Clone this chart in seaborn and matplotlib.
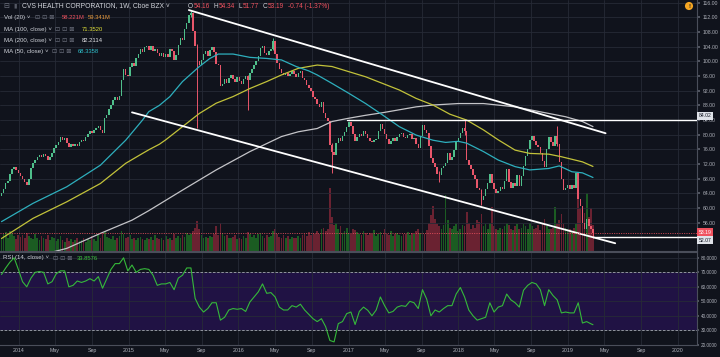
import matplotlib
matplotlib.use("Agg")
import numpy as np
import pandas as pd
import matplotlib.pyplot as plt
import matplotlib.dates as mdates
from matplotlib.ticker import FixedLocator, FuncFormatter, FormatStrFormatter
import seaborn as sns

# ---------------- data (weekly, CVS Health) ----------------
last_week = "2019-03-25"
first_open = 63.4
closes = [
    64.0, 65.2, 66.8, 67.5, 69.3, 70.6, 71.2, 70.3, 69.6, 68.8,
    68.0, 67.2, 66.4, 67.8, 70.9, 72.3, 73.2, 73.8, 74.6, 73.9,
    74.8, 74.2, 73.2, 73.8, 74.9, 76.4, 77.2, 78.1, 79.3, 78.6,
    79.2, 77.8, 76.6, 77.4, 76.8, 77.5, 76.9, 78.0, 78.6, 78.2,
    79.4, 80.3, 81.0, 80.6, 81.4, 81.9, 82.3, 81.2, 80.6, 84.5,
    85.3, 86.9, 88.2, 89.6, 90.3, 89.4, 90.6, 94.8, 97.9, 96.4,
    96.0, 98.4, 99.6, 98.8, 100.9, 102.1, 103.3, 102.6, 103.8, 104.3,
    103.2, 104.1, 102.8, 103.5, 102.2, 101.6, 102.4, 101.3, 102.0, 101.1,
    103.4, 102.9, 100.4, 101.8, 104.6, 106.3, 105.8, 108.9, 110.6, 112.7,
    113.2, 108.4, 104.3, 100.2, 99.1, 100.4, 101.9, 102.8, 101.6, 103.1,
    103.9, 102.5, 99.4, 98.9, 93.2, 93.8, 95.2, 94.1, 95.6, 96.4,
    95.3, 94.4, 95.8, 94.6, 93.7, 95.1, 95.9, 94.8, 96.7, 98.0,
    98.9, 100.2, 101.4, 103.6, 104.1, 102.3, 101.8, 102.9, 103.4, 105.6,
    102.0, 99.6, 97.8, 96.9, 96.2, 96.8, 95.9, 96.5, 97.3, 96.6,
    95.8, 96.9, 97.4, 95.6, 94.8, 93.6, 92.8, 91.9, 90.4, 89.8,
    88.3, 87.6, 88.9, 86.0, 84.6, 83.8, 77.2, 75.3, 74.6, 77.8,
    79.2, 78.4, 79.6, 80.8, 82.2, 83.6, 82.4, 80.3, 78.2, 79.4,
    80.3, 79.6, 81.0, 80.2, 79.1, 78.4, 77.9, 78.6, 78.9, 80.9,
    82.8, 81.6, 80.2, 78.9, 77.6, 78.3, 79.1, 78.4, 79.3, 80.1,
    80.6, 79.4, 79.0, 79.8, 80.3, 78.9, 79.2, 77.4, 76.3, 79.6,
    82.6, 81.3, 80.4, 76.8, 73.6, 72.4, 71.2, 69.3, 68.9, 70.8,
    71.6, 72.4, 74.9, 73.2, 73.8, 75.9, 77.9, 79.2, 80.6, 81.7,
    80.9, 73.0, 71.8, 70.6, 69.1, 68.0, 65.4, 64.8, 62.3, 63.4,
    65.2, 66.9, 69.4, 66.8, 65.2, 64.1, 64.6, 65.8, 65.3, 67.5,
    70.6, 67.2, 65.6, 66.7, 66.1, 68.9, 65.9, 68.7, 71.6, 74.3,
    76.2, 78.5, 79.6, 78.4, 77.3, 76.6, 75.1, 72.8, 71.2, 76.1,
    79.3, 77.9, 76.8, 79.6, 77.4, 72.5, 67.8, 64.9, 65.6, 66.4,
    65.3, 66.2, 65.5, 69.6, 62.6, 60.5, 55.8, 54.3, 56.9, 55.0,
    54.2, 53.19,
]
volumes_m = [
    30, 38, 42, 28, 45, 40, 33, 26, 35, 31,
    36, 28, 40, 34, 30, 26, 38, 29, 24, 33,
    30, 27, 35, 25, 31, 28, 22, 27, 33, 24,
    20, 29, 23, 26, 19, 24, 28, 22, 25, 30,
    21, 26, 24, 33, 27, 23, 35, 29, 40, 44,
    31, 28, 26, 34, 25, 30, 33, 45, 38, 29,
    31, 35, 27, 30, 24, 28, 32, 26, 25, 29,
    27, 31, 24, 36, 28, 26, 30, 25, 33, 27,
    29, 24, 38, 30, 34, 28, 36, 32, 40, 35,
    38, 45, 52, 66, 48, 35, 30, 32, 29, 34,
    31, 38, 55, 36, 62, 40, 33, 36, 30, 28,
    32, 35, 27, 30, 26, 33, 29, 42, 38, 31,
    35, 30, 37, 40, 33, 29, 36, 31, 34, 45,
    50, 38, 32, 30, 35, 29, 33, 27, 31, 28,
    30, 34, 29, 36, 38, 33, 42, 35, 40, 37,
    45, 39, 48, 52, 44, 50, 140, 75, 58, 62,
    48, 55, 40, 45, 52, 41, 38, 50, 46, 42,
    39, 36, 44, 40, 35, 41, 38, 46, 33, 37,
    42, 36, 48, 39, 35, 44, 33, 38, 41, 36,
    34, 39, 37, 42, 35, 40, 38, 45, 50, 41,
    44, 38, 46, 62, 80, 100, 72, 60, 55, 48,
    58, 125, 70, 52, 48, 55, 60, 45, 50, 58,
    55, 88, 62, 50, 58, 52, 70, 65, 82, 56,
    60, 48, 62, 99, 55, 50, 46, 52, 48, 55,
    62, 58, 50, 46, 55, 60, 48, 52, 60, 56,
    50, 62, 55, 48, 52, 58, 46, 60, 72, 55,
    50, 48, 52, 99, 60, 70, 82, 60, 52, 48,
    50, 45, 52, 60, 116, 95, 80, 85, 130, 75,
    95, 58,
]
# notable wicks (week index, high, low)
wick_weeks = [90, 93, 117, 129, 157, 208, 220, 228, 264, 281]
wick_highs = [113.65, 104.8, 96.4, 106.3, 77.8, 70.0, 84.4, 65.2, 82.3, 54.34]
wick_lows = [112.0, 81.7, 86.7, 103.0, 69.5, 67.0, 80.0, 60.9, 76.9, 51.77]

# moving averages (week index, value)
ma50_weeks = [0, 15, 31, 47, 59, 67, 70, 75, 80, 86, 94, 99, 103, 110, 118, 126, 133, 140, 146,
              150, 157, 165, 173, 181, 189, 197, 205, 211, 217, 221, 229, 236, 244, 251, 260,
              265, 271, 276, 281]
ma50_vals = [56.3, 61.3, 65.8, 71.7, 78.5, 84.0, 86.3, 88.0, 90.4, 94.5, 98.6, 100.8, 102.0,
             102.0, 101.1, 100.8, 100.4, 98.6, 97.4, 96.3, 94.0, 91.3, 88.5, 85.4, 82.2, 79.9,
             78.5, 77.9, 78.2, 77.7, 75.4, 73.1, 71.3, 70.4, 70.8, 71.5, 69.9, 69.6, 68.34]
ma100_weeks = [0, 15, 31, 47, 59, 67, 70, 75, 78, 86, 94, 102, 110, 118, 126, 133, 141, 150,
               157, 165, 173, 181, 189, 197, 205, 213, 221, 229, 236, 244, 251, 260, 266, 276, 281]
ma100_vals = [51.7, 57.2, 61.7, 66.7, 72.2, 74.9, 75.9, 77.4, 78.6, 82.2, 85.8, 88.6, 90.4,
              92.6, 94.5, 96.3, 98.1, 99.0, 98.6, 97.2, 95.8, 94.0, 92.2, 89.9, 88.1, 85.6,
              84.0, 81.3, 78.6, 75.8, 74.9, 74.7, 74.0, 72.6, 71.35]
ma200_weeks = [20, 31, 47, 62, 70, 86, 102, 118, 133, 141, 150, 157, 165, 173, 181, 189, 197,
               205, 217, 229, 244, 260, 268, 276, 281]
ma200_vals = [47.4, 49.0, 53.1, 56.7, 59.3, 64.9, 70.4, 75.4, 79.5, 80.8, 81.7, 83.6, 84.5,
              85.3, 86.0, 86.8, 87.6, 88.1, 88.5, 88.5, 87.6, 85.8, 84.9, 83.6, 82.21]

# RSI(14) every second week, plus the last week
rsi_vals = [
    68.5, 73, 77, 80, 72, 63.5, 60, 66, 70, 70.5,
    70, 62, 63.5, 69, 71, 71, 60, 61, 64, 63,
    64, 65.6, 64, 67, 59, 65.5, 72, 76, 76, 80,
    71, 75, 70, 72, 72.5, 72, 68, 61, 62, 62,
    63, 58, 66, 68, 73, 73, 52, 46, 42.6, 45,
    49, 49, 37, 39, 44, 45, 44.5, 45, 43, 49.5,
    53, 56.5, 62, 55.5, 56, 53, 46, 44, 44, 47,
    46, 48, 44, 41, 38, 36, 38, 32.5, 23, 22,
    34.6, 36, 41.5, 42.6, 34, 43, 46, 43.8, 40, 44,
    53, 47, 42, 43, 46, 47, 46.5, 50, 49, 45,
    58, 51.5, 40, 44, 42.6, 45, 47, 47, 55, 59.5,
    53, 44, 40, 37, 38, 39, 49, 42.6, 46, 47,
    55, 51, 49, 46, 57.6, 61, 63, 62, 58, 47,
    58, 54, 51, 42, 42.6, 42, 42, 49, 35, 36,
    34.5, 33.86,
]

# drawn trend lines (date, price)
upper_channel = [("2015-07-20", 114.0), ("2019-05-06", 80.4)]
lower_channel = [("2015-01-12", 86.1), ("2019-06-07", 50.4)]
h_lines = [("2016-12-26", 84.02), ("2019-03-25", 52.07)]
last_close = 53.19

# ---------------- style ----------------
BG = "#10131c"
GRID = "#262a36"
TXT = "#d0d3da"
AX_TXT = "#aeb1ba"
UP = "#4fbf8b"
DN = "#e8566a"
VUP = "#1b5c22"
VDN = "#6a2231"
RED = "#f0525f"

sns.set_theme(style="dark", rc={"axes.facecolor": BG, "figure.facecolor": BG,
                                "grid.color": GRID, "axes.edgecolor": "#454955"})
plt.rcParams["font.family"] = ["Liberation Sans", "DejaVu Sans"]

W, H = 720, 357
fig = plt.figure(figsize=(7.2, 3.57), dpi=100, facecolor=BG)
ax = fig.add_axes([0, 1 - 251 / H, 697 / W, 251 / H])
axr = fig.add_axes([0, 1 - 345 / H, 697 / W, 93 / H], sharex=ax)
axv = ax.twinx()
axv.set_zorder(0)
ax.set_zorder(1)
ax.patch.set_visible(False)
axv.set_facecolor(BG)

dates = pd.date_range(end=last_week, periods=len(closes), freq="W-MON")
x = mdates.date2num(dates.to_pydatetime())
c = np.array(closes)
o = np.array([first_open] + closes[:-1])
up = c >= o
cols = np.where(up, UP, DN)

# volume
axv.bar(x, volumes_m, width=5.8, color=np.where(up, VUP, VDN), linewidth=0)
axv.set_ylim(0, 560)
axv.set_yticks([])
for s in axv.spines.values():
    s.set_visible(False)

# grid
ax.set_axisbelow(True)
ax.grid(True, color=GRID, lw=0.6)
axr.grid(True, color=GRID, lw=0.6)

# candles
ax.bar(x, np.maximum(np.abs(c - o), 0.25), bottom=np.minimum(o, c), width=5.0,
       color=cols, linewidth=0, zorder=3)
wk = np.array(wick_weeks)
ax.vlines(x[wk], wick_lows, wick_highs, colors=cols[wk], lw=0.7, zorder=2.9)

# moving averages
def wx(weeks):
    return x[np.array(weeks)]

sns.lineplot(x=wx(ma200_weeks), y=ma200_vals, ax=ax, color="#c4c4c8", lw=0.9, zorder=4)
sns.lineplot(x=wx(ma100_weeks), y=ma100_vals, ax=ax, color="#c2c23a", lw=0.9, zorder=4)
sns.lineplot(x=wx(ma50_weeks), y=ma50_vals, ax=ax, color="#2eafbd", lw=0.9, zorder=4)

# trend lines
for line in (upper_channel, lower_channel):
    lx = mdates.date2num(pd.to_datetime([p[0] for p in line]).to_pydatetime())
    ax.plot(lx, [p[1] for p in line], color="white", lw=1.3, zorder=5, solid_capstyle="round")
for d, v in h_lines:
    lx = mdates.date2num(pd.to_datetime([d, "2020-12-31"]).to_pydatetime())
    ax.plot(lx, [v, v], color="white", lw=1.0, zorder=5)
ax.axhline(last_close, color=RED, lw=0.6, ls=(0, (1.2, 1.6)), zorder=5)

# axes ranges
xl = mdates.date2num(pd.to_datetime(["2013-10-30", "2020-03-05"]).to_pydatetime())
ax.set_xlim(*xl)
ax.set_ylim(48.29, 116.74)
ax.set_ylabel("")
ax.yaxis.tick_right()
ax.yaxis.set_major_locator(FixedLocator(np.arange(56, 117, 4)))
ax.yaxis.set_major_formatter(FormatStrFormatter("%.2f"))
ax.tick_params(axis="y", labelsize=3.7, labelcolor=AX_TXT, length=2, color="#5a5e6a", pad=2)
ax.tick_params(axis="x", length=0, labelbottom=False)
ax.xaxis.set_major_locator(mdates.MonthLocator(bymonth=(1, 5, 9)))
for k, s in ax.spines.items():
    s.set_visible(k in ("right", "bottom"))
    s.set_color("#4a4e5a")
    s.set_linewidth(0.8)

# RSI pane
rsi_weeks = list(range(0, len(closes), 2)) + [len(closes) - 1]
axr.axhspan(30, 70, color="#201244", zorder=0, lw=0)
sns.lineplot(x=wx(rsi_weeks), y=rsi_vals, ax=axr, color="#35b93a", lw=0.8, zorder=4)
for lv in (70, 30):
    axr.axhline(lv, color="#a3a6b0", lw=0.6, ls=(0, (3, 2)), zorder=3)
axr.set_ylim(19.86, 84.0)
axr.set_ylabel("")
axr.yaxis.tick_right()
axr.yaxis.set_major_locator(FixedLocator([20, 30, 40, 50, 60, 70, 80]))
axr.yaxis.set_major_formatter(FormatStrFormatter("%.4f"))
axr.tick_params(axis="y", labelsize=3.4, labelcolor=AX_TXT, length=1.5, color="#5a5e6a", pad=1)


def month_fmt(v, pos):
    d = mdates.num2date(v)
    return d.strftime("%Y") if d.month == 1 else d.strftime("%b")


axr.xaxis.set_major_locator(mdates.MonthLocator(bymonth=(1, 5, 9)))
axr.xaxis.set_major_formatter(FuncFormatter(month_fmt))
axr.tick_params(axis="x", labelsize=3.8, labelcolor=AX_TXT, length=0, pad=2.5)
for k, s in axr.spines.items():
    s.set_visible(k in ("right", "bottom", "top"))
    s.set_color("#4a4e5a")
    s.set_linewidth(0.8)

# ---------------- header texts ----------------
renderer = fig.canvas.get_renderer()


def seq(xp, yp, pieces, size):
    cur = xp
    for s, col, gap in pieces:
        t = fig.text(cur / W, 1 - yp / H, s, color=col, fontsize=size, ha="left", va="center",
                     zorder=10)
        cur += t.get_window_extent(renderer=renderer).width + gap


ICON = "#6f7380"
fig.text(3 / W, 1 - 6 / H, "⊟", color=ICON, fontsize=5, va="center", family="DejaVu Sans")
fig.text(13 / W, 1 - 6 / H, "▮", color="#555965", fontsize=4.5, va="center", family="DejaVu Sans")
fig.text(21.7 / W, 1 - 6 / H, "CVS HEALTH CORPORATION, 1W, Cboe BZX ˅", color=TXT,
         fontsize=4.9, va="center")
seq(188, 6, [("O", TXT, 0.3), ("54.16", RED, 4), ("H", TXT, 0.3), ("54.34", RED, 4),
             ("L", TXT, 0.3), ("51.77", RED, 4), ("C", TXT, 0.3), ("53.19", RED, 4),
             ("-0.74 (-1.37%)", RED, 0)], 4.7)

legend_rows = [
    (17.7, "Vol (20) ˅", 35, 61.7, [("58.221M", RED), ("59.341M", "#e89a3c")]),
    (29.3, "MA (100, close) ˅", 55, 81.7, [("71.3520", "#e2e23a")]),
    (40.3, "MA (200, close) ˅", 55, 81.7, [("82.2114", "#e6e6ea")]),
    (51.3, "MA (50, close) ˅", 52, 77.3, [("68.3358", "#2fc0cc")]),
]
for yp, label, ix, vx, vals in legend_rows:
    fig.text(4 / W, 1 - yp / H, label, color=TXT, fontsize=4.4, va="center")
    fig.text(ix / W, 1 - yp / H, "⊡ ⊡ ⊠", color=ICON, fontsize=4.4, va="center",
             family="DejaVu Sans")
    seq(vx, yp, [(s, col, 3) for s, col in vals], 4.2)

fig.text(3 / W, 1 - 258 / H, "RSI (14, close) ˅", color=TXT, fontsize=4.4, va="center")
fig.text(53 / W, 1 - 258 / H, "⊡ ⊡ ⊠", color=ICON, fontsize=4.4, va="center", family="DejaVu Sans")
fig.text(77 / W, 1 - 258 / H, "33.8576", color="#3cc63c", fontsize=4.2, va="center")

# warning badge
fig.text(689 / W, 1 - 6 / H, "!", color=BG, fontsize=4.5, fontweight="bold", ha="center",
         va="center", bbox=dict(boxstyle="circle,pad=0.25", fc="#f5a623", ec="none"))

# price tags on the right scale
for yp, s, fc, tc in ((116, "84.02", "#dfe2e8", "#131722"),
                      (232, "53.19", RED, "white"),
                      (240, "52.07", "#dfe2e8", "#131722")):
    fig.text(699 / W, 1 - yp / H, s, color=tc, fontsize=3.7, ha="left", va="center", zorder=11,
             bbox=dict(boxstyle="square,pad=0.3", fc=fc, ec="none"))

fig.savefig("out.png", dpi=100, facecolor=BG)
